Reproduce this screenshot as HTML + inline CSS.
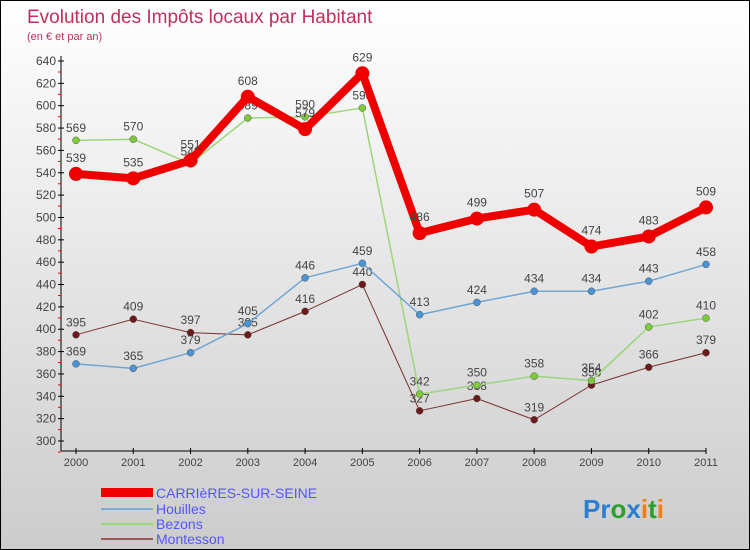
<!DOCTYPE html>
<html><head><meta charset="utf-8"><style>
body{margin:0;}
#c{width:748px;height:548px;border:1px solid #000;background:linear-gradient(#fff,#ccc);position:relative;overflow:hidden;font-family:"Liberation Sans",sans-serif;}
svg text{font-family:"Liberation Sans",sans-serif;}
</style></head><body>
<div id="c">
<svg id="s" width="748" height="548">
<text x="26" y="22" font-size="19" fill="#c0305a">Evolution des Impôts locaux par Habitant</text>
<text x="26" y="39" font-size="11" fill="#c0305a">(en € et par an)</text>
<g id="axes"></g><g id="series"></g>
<g>
<rect x="100" y="487" width="52" height="9" fill="#e00"/>
<text x="155" y="497" font-size="14" fill="#55f">CARRIèRES-SUR-SEINE</text>
<rect x="100" y="507" width="52" height="2" fill="#7aaed6"/>
<text x="155" y="513" font-size="14" fill="#55f">Houilles</text>
<rect x="100" y="522" width="52" height="2" fill="#9bd67a"/>
<text x="155" y="528" font-size="14" fill="#55f">Bezons</text>
<rect x="100" y="537" width="52" height="2" fill="#9a5a5a"/>
<text x="155" y="543" font-size="14" fill="#55f">Montesson</text>
</g>
<text x="582" y="517" font-size="26" font-weight="bold"><tspan fill="#2a7fd0">Pr</tspan><tspan fill="#2ca02c">o</tspan><tspan fill="#2a7fd0">x</tspan><tspan fill="#f07f10">i</tspan><tspan fill="#2ca02c">t</tspan><tspan fill="#f07f10">i</tspan></text>
</svg></div>
<script>
const years=[2000,2001,2002,2003,2004,2005,2006,2007,2008,2009,2010,2011];
const yTicks=[300,320,340,360,380,400,420,440,460,480,500,520,540,560,580,600,620,640];
const carrieres=[539,535,551,608,579,629,486,499,507,474,483,509];
const houilles=[369,365,379,405,446,459,413,424,434,434,443,458];
const bezons=[569,570,548,589,590,598,342,350,358,354,402,410];
const montesson=[395,409,397,395,416,440,327,338,319,350,366,379];
const NS="http://www.w3.org/2000/svg";
const xS=i=>75+i*(630/11);
const yS=v=>440-(v-300)*380/340;
function mk(t,a,p){const e=document.createElementNS(NS,t);for(const k in a)e.setAttribute(k,a[k]);p.appendChild(e);return e;}
const ax=document.getElementById('axes');
let l=mk('line',{x1:60,y1:55,x2:60,y2:450,stroke:'#000'},ax);


l=mk('line',{x1:60,y1:450,x2:705,y2:450,stroke:'#000'},ax);


yTicks.forEach(v=>{const y=yS(v);
 mk('line',{x1:57,y1:y,x2:63,y2:y,stroke:'#000'},ax);
 mk('line',{x1:57,y1:y+11,x2:60,y2:y+11,stroke:'#e00'},ax);
 const t=mk('text',{x:55,y:y+4,'font-size':12,fill:'#444','text-anchor':'end'},ax);t.textContent=v;
 
 });
years.forEach((yr,i)=>{const x=xS(i);
 mk('line',{x1:x,y1:447,x2:x,y2:453,stroke:'#000'},ax);
 const t=mk('text',{x:x,y:465,'font-size':11,fill:'#444','text-anchor':'middle'},ax);t.textContent=yr;
 
 });
const sg=document.getElementById('series');
function draw(data,name,col,w,r,fill){
 const g=mk('g',{},sg);
 
 
 const pl=mk('polyline',{points:data.map((v,i)=>xS(i)+','+yS(v)).join(' '),fill:'none',stroke:col,'stroke-width':w,'stroke-linejoin':'round'},g);
 
 
 data.forEach((v,i)=>{const c=mk('circle',{cx:xS(i),cy:yS(v),r:r,fill:fill,stroke:w>3?'none':'#555','stroke-width':0.5},g);
  
  
  const t=mk('text',{x:xS(i),y:yS(v)-r-5,'font-size':12,fill:'#444','text-anchor':'middle'},g);t.textContent=v;
  
  });
}
draw(montesson,'montesson','#7a3030',1,3.5,'#6a1a1a');
draw(bezons,'bezons','#9bd67a',1.5,3.5,'#7ccc3a');
draw(houilles,'houilles','#6fa6d6',1.5,3.5,'#4b94d4');
draw(carrieres,'carrieres','#e00',8,7,'#e00');
</script></body></html>
